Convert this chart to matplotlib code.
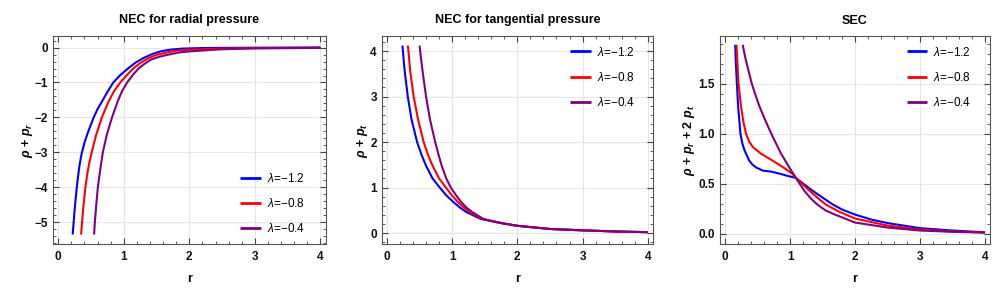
import matplotlib
matplotlib.use("Agg")
import matplotlib.pyplot as plt
from matplotlib.ticker import MultipleLocator, FormatStrFormatter

plt.rcParams['font.family'] = ['Liberation Sans', 'DejaVu Sans']
plt.rcParams['mathtext.fontset'] = 'custom'
plt.rcParams['mathtext.rm'] = 'Liberation Sans'
plt.rcParams['mathtext.it'] = 'Liberation Sans:italic'
plt.rcParams['mathtext.bf'] = 'Liberation Sans:bold'
plt.rcParams['mathtext.bfit'] = 'Liberation Sans:bold:italic'

labels = ["$\\lambda$=\u22121.2", "$\\lambda$=\u22120.8", "$\\lambda$=\u22120.4"]
colors = ["#0000ff", "#ff0000", "#800080"]

# Panel 1: NEC radial  (rho + p_r)
r1_a = [0.22, 0.235, 0.252, 0.272, 0.295, 0.322, 0.355, 0.40, 0.445, 0.54, 0.6, 0.665, 0.75, 0.84, 0.95, 1.07, 1.18, 1.30, 1.43, 1.56, 1.71, 1.9, 2.2, 2.6, 3.0, 4.0]
y1_a = [-5.35, -5.0, -4.6, -4.2, -3.8, -3.4, -3.05, -2.72, -2.47, -2.0, -1.76, -1.55, -1.27, -1.0, -0.78, -0.59, -0.43, -0.30, -0.19, -0.11, -0.06, -0.03, -0.015, -0.008, -0.005, 0.0]
r1_b = [0.348, 0.363, 0.386, 0.414, 0.44, 0.47, 0.51, 0.578, 0.665, 0.766, 0.85, 0.946, 1.05, 1.15, 1.26, 1.38, 1.5, 1.61, 1.8, 2.0, 2.5, 3.0, 4.0]
y1_b = [-5.35, -5.0, -4.5, -4.0, -3.65, -3.33, -3.0, -2.5, -2.0, -1.55, -1.25, -1.0, -0.78, -0.59, -0.43, -0.30, -0.21, -0.16, -0.09, -0.06, -0.03, -0.015, -0.005]
r1_c = [0.547, 0.558, 0.58, 0.604, 0.64, 0.68, 0.74, 0.82, 0.905, 0.97, 1.05, 1.14, 1.23, 1.32, 1.41, 1.53, 1.66, 1.85, 2.0, 2.5, 3.0, 4.0]
y1_c = [-5.35, -5.0, -4.5, -4.0, -3.5, -3.0, -2.5, -2.0, -1.55, -1.26, -1.0, -0.78, -0.59, -0.46, -0.35, -0.27, -0.21, -0.14, -0.11, -0.05, -0.025, -0.01]

# Panel 2: NEC tangential  (rho + p_t)
r2_a = [0.237, 0.246, 0.26, 0.276, 0.32, 0.377, 0.463, 0.53, 0.6, 0.7, 0.81, 0.91, 1.02, 1.12, 1.22, 1.44, 1.75, 2.0, 2.5, 3.0, 3.5, 4.0]
y2_a = [4.12, 4.0, 3.75, 3.52, 3.0, 2.5, 2.0, 1.72, 1.48, 1.2, 1.0, 0.83, 0.68, 0.56, 0.46, 0.31, 0.22, 0.16, 0.09, 0.06, 0.035, 0.02]
r2_b = [0.32, 0.33, 0.345, 0.36, 0.41, 0.477, 0.563, 0.63, 0.70, 0.8, 0.905, 1.0, 1.09, 1.18, 1.27, 1.46, 1.75, 2.0, 2.5, 3.0, 3.5, 4.0]
y2_b = [4.12, 4.0, 3.75, 3.52, 3.0, 2.5, 2.0, 1.72, 1.48, 1.2, 1.0, 0.82, 0.68, 0.56, 0.46, 0.31, 0.22, 0.16, 0.09, 0.06, 0.035, 0.02]
r2_c = [0.50, 0.51, 0.53, 0.55, 0.60, 0.66, 0.74, 0.79, 0.84, 0.91, 0.98, 1.06, 1.14, 1.22, 1.31, 1.48, 1.75, 2.0, 2.5, 3.0, 3.5, 4.0]
y2_c = [4.12, 4.0, 3.75, 3.52, 3.0, 2.5, 2.0, 1.73, 1.48, 1.2, 1.0, 0.83, 0.68, 0.56, 0.46, 0.31, 0.22, 0.16, 0.09, 0.06, 0.035, 0.02]

# Panel 3: SEC  (rho + p_r + 2 p_t)
r3_a = [0.154, 0.165, 0.18, 0.20, 0.235, 0.265, 0.30, 0.37, 0.42, 0.48, 0.58, 0.71, 0.86, 0.97, 1.04, 1.09, 1.2, 1.35, 1.5, 1.66, 1.8, 2.0, 2.25, 2.5, 3.0, 3.5, 4.0]
y3_a = [1.89, 1.7, 1.5, 1.27, 1.0, 0.9, 0.83, 0.73, 0.69, 0.66, 0.63, 0.62, 0.596, 0.575, 0.565, 0.556, 0.5, 0.427, 0.36, 0.29, 0.24, 0.19, 0.14, 0.105, 0.054, 0.03, 0.012]
r3_b = [0.174, 0.19, 0.205, 0.245, 0.28, 0.32, 0.37, 0.425, 0.55, 0.73, 0.90, 1.04, 1.09, 1.2, 1.30, 1.42, 1.55, 1.75, 2.0, 2.5, 3.0, 3.5, 4.0]
y3_b = [1.89, 1.68, 1.5, 1.27, 1.12, 1.0, 0.92, 0.867, 0.80, 0.73, 0.66, 0.596, 0.556, 0.49, 0.427, 0.36, 0.29, 0.22, 0.15, 0.08, 0.04, 0.02, 0.01]
r3_c = [0.27, 0.30, 0.34, 0.41, 0.47, 0.53, 0.62, 0.71, 0.86, 0.99, 1.09, 1.22, 1.32, 1.42, 1.55, 1.69, 2.0, 2.5, 3.0, 3.5, 4.0]
y3_c = [1.89, 1.79, 1.68, 1.5, 1.38, 1.27, 1.13, 1.0, 0.80, 0.66, 0.556, 0.427, 0.35, 0.29, 0.23, 0.19, 0.11, 0.06, 0.03, 0.017, 0.01]

panels = [
    dict(title="NEC for radial pressure",
         ylabel="$\\mathbfit{\\rho}$ + $\\mathbfit{p}_{\\mathbfit{r}}$",
         data=[(r1_a, y1_a), (r1_b, y1_b), (r1_c, y1_c)],
         ylim=(-5.62, 0.33), ymaj=1, ymin=0.2, yfmt=None,
         pos=[53/1008, 56/300, 272.7/1008, 208/300], lpad=0,
         leg=dict(loc="lower right", bbox_to_anchor=(0.962, -0.01))),
    dict(title="NEC for tangential pressure",
         ylabel="$\\mathbfit{\\rho}$ + $\\mathbfit{p}_{\\mathbfit{t}}$",
         data=[(r2_a, y2_a), (r2_b, y2_b), (r2_c, y2_c)],
         ylim=(-0.24, 4.33), ymaj=1, ymin=0.2, yfmt=None,
         pos=[381.7/1008, 56/300, 271.3/1008, 208/300], lpad=0,
         leg=dict(loc="upper right", bbox_to_anchor=(0.972, 1.005))),
    dict(title="SEC",
         ylabel="$\\mathbfit{\\rho}$ + $\\mathbfit{p}_{\\mathbfit{r}}$ + 2 $\\mathbfit{p}_{\\mathbfit{t}}$",
         data=[(r3_a, y3_a), (r3_b, y3_b), (r3_c, y3_c)],
         ylim=(-0.105, 1.978), ymaj=0.5, ymin=0.1, yfmt="%.1f",
         pos=[720/1008, 56/300, 270/1008, 208/300], lpad=1.5,
         leg=dict(loc="upper right", bbox_to_anchor=(0.97, 1.005))),
]

fig = plt.figure(figsize=(10.08, 3.0), dpi=100)
for p in panels:
    ax = fig.add_axes(p["pos"])
    for (rr, yy), c, lab in zip(p["data"], colors, labels):
        ax.plot(rr, yy, color=c, lw=1.5, label=lab, solid_capstyle='butt', solid_joinstyle='round')
    ax.set_xlim(-0.08, 4.08)
    ax.set_ylim(*p["ylim"])
    ax.xaxis.set_major_locator(MultipleLocator(1))
    ax.xaxis.set_minor_locator(MultipleLocator(0.2))
    ax.yaxis.set_major_locator(MultipleLocator(p["ymaj"]))
    ax.yaxis.set_minor_locator(MultipleLocator(p["ymin"]))
    if p["yfmt"]:
        ax.yaxis.set_major_formatter(FormatStrFormatter(p["yfmt"]))
    ax.grid(True, which="major", color="#e6e6e6", lw=0.8)
    ax.set_axisbelow(True)
    ax.tick_params(which="both", direction="in", top=True, right=True, colors="#444444",
                   labelcolor="#111111", labelsize=8.5)
    ax.tick_params(axis="x", which="major", pad=5)
    ax.tick_params(which="major", length=4, width=0.8)
    ax.tick_params(which="minor", length=2, width=0.6)
    for lab in ax.get_xticklabels() + ax.get_yticklabels():
        lab.set_fontweight("bold")
    for s in ax.spines.values():
        s.set_color("#555555")
        s.set_linewidth(0.8)
    ax.set_title(p["title"], fontsize=9, fontweight="bold", pad=9)
    ax.set_xlabel("r", fontsize=9, fontweight="bold", labelpad=7)
    ax.set_ylabel(p["ylabel"], fontsize=9, fontweight="bold", labelpad=p["lpad"])
    leg = ax.legend(frameon=False, fontsize=8.5, handlelength=1.75, handletextpad=0.5,
                    labelspacing=1.05, **p["leg"])
    for h in leg.get_lines():
        h.set_linewidth(2.0)

fig.savefig("out.png", dpi=100)
